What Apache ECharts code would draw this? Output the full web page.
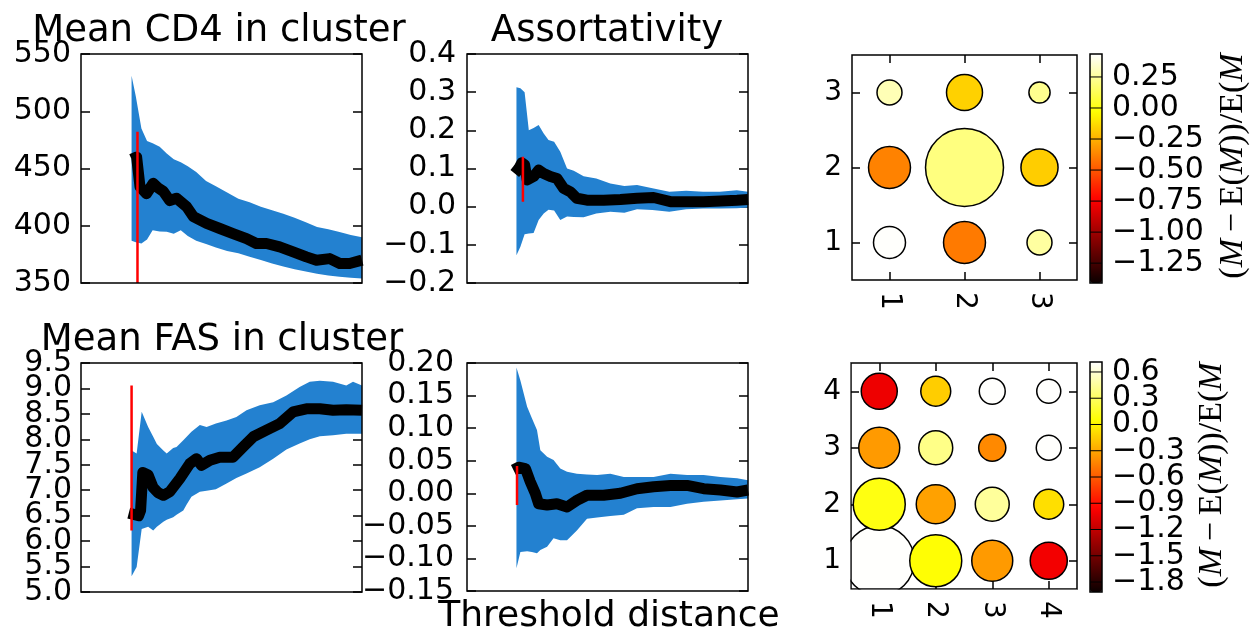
<!DOCTYPE html>
<html>
<head>
<meta charset="utf-8">
<script src="https://cdn.jsdelivr.net/npm/echarts@6/dist/echarts.min.js"></script>
<style>
  html, body { margin: 0; padding: 0; background: #fff; }
  #main { width: 1253px; height: 637px; }
</style>
</head>
<body>
<div id="main"></div>
<script>
// ---------- data ----------
// x is the threshold distance, in % of the plotted range (no tick labels in the figure)

// Mean CD4 in cluster
const cd4Ticks = [350, 400, 450, 500, 550]
const cd4BandX = [18, 19.5, 21.5, 23.5, 25.5, 28, 30.5, 33, 35.5, 38, 41, 44.5, 48, 52, 56, 60, 64, 68, 72, 76, 80, 84, 88, 92, 96, 100]
const cd4Lo = [387, 385.5, 384.5, 388, 396, 395, 394.7, 393, 396, 391, 387, 384, 381, 378, 376, 373, 370, 367, 364.5, 362, 360, 358, 356.5, 355.5, 354.5, 354]
const cd4Hi = [531, 513, 485, 474, 472, 469, 463, 458, 455.5, 452, 447, 439, 434.5, 429, 423.5, 420.5, 416.5, 413.5, 410.5, 407, 403, 399, 397, 394.5, 392, 390]
const cd4LineX = [18, 19.8, 21, 23.3, 25.7, 27.5, 29.3, 31.6, 34, 37.6, 40, 44.7, 49.4, 54.1, 58.9, 62.4, 66, 70.7, 75.5, 80.2, 83.8, 88.5, 92.1, 95.6, 100]
const cd4Line = [458, 460, 434, 428, 437, 433, 430, 422, 424, 416.6, 408, 402, 397.6, 393.2, 388.8, 384.5, 384.5, 381.5, 377.2, 372.8, 369.9, 371.3, 367, 367, 370]
const cd4RedX = 20.1
const cd4Red = [482, 350]

// Assortativity (CD4)
const asaTicks = [-0.2, -0.1, 0, 0.1, 0.2, 0.3, 0.4]
const asaBandX = [17.6, 19, 20.5, 22, 23.7, 25.5, 27.3, 29, 31, 33.2, 35.6, 38, 41.5, 46, 51, 56, 60.5, 66, 72, 78, 84, 90, 96, 100]
const asaLo = [-0.127, -0.105, -0.072, -0.07, -0.069, -0.035, -0.018, -0.008, -0.01, -0.035, -0.026, -0.027, -0.028, -0.018, -0.013, -0.016, -0.007, -0.009, -0.013, -0.007, -0.005, -0.005, -0.004, -0.002]
const asaHi = [0.313, 0.31, 0.3, 0.2, 0.206, 0.214, 0.192, 0.175, 0.17, 0.144, 0.1, 0.094, 0.08, 0.074, 0.061, 0.054, 0.057, 0.048, 0.039, 0.042, 0.039, 0.039, 0.043, 0.039]
const asaLineX = [17, 18.4, 19.5, 20.5, 21.4, 23.7, 25.5, 27.3, 29.7, 32, 34.4, 36.8, 39.1, 42.7, 48.6, 54.6, 60.5, 66.4, 72.4, 78.3, 84.2, 90.2, 96.1, 100]
const asaLine = [0.087, 0.1, 0.115, 0.11, 0.07, 0.079, 0.096, 0.087, 0.079, 0.074, 0.048, 0.039, 0.022, 0.017, 0.017, 0.019, 0.022, 0.024, 0.013, 0.013, 0.013, 0.015, 0.017, 0.019]
const asaRedX = 19.9
const asaRed = [0.131, 0.013]

// Mean FAS in cluster
const fasTicks = [5.0, 5.5, 6.0, 6.5, 7.0, 7.5, 8.0, 8.5, 9.0, 9.5]
const fasBandX = [18, 19.8, 21.6, 23.9, 25.7, 27, 29.3, 30.5, 32.8, 34, 36.4, 37.6, 39.3, 42.3, 44.7, 48, 51.8, 55.3, 58.9, 63.6, 68.4, 73.1, 77.8, 81.4, 85, 89.7, 94.4, 96.8, 100]
const fasLo = [5.31, 5.49, 6.24, 6.28, 6.21, 6.28, 6.38, 6.42, 6.47, 6.52, 6.6, 6.72, 6.87, 6.97, 6.99, 7.02, 7.13, 7.24, 7.33, 7.45, 7.62, 7.8, 7.92, 8.0, 8.06, 8.08, 8.11, 8.11, 8.11]
const fasHi = [7.78, 7.72, 8.54, 8.24, 8.05, 7.91, 7.78, 7.72, 7.83, 7.85, 7.98, 8.05, 8.15, 8.28, 8.24, 8.31, 8.37, 8.44, 8.57, 8.67, 8.73, 8.86, 9.03, 9.13, 9.15, 9.13, 9.06, 9.13, 9.06]
const fasLineX = [17, 20.5, 21.2, 22, 23.9, 25.7, 27.5, 29.3, 31.6, 35.2, 38.7, 41.1, 42.9, 45.9, 49.4, 54.1, 57.7, 61.3, 66, 70.7, 75.5, 80.2, 85, 89.7, 94.4, 100]
const fasLine = [6.55, 6.5, 6.6, 7.35, 7.3, 7.05, 6.95, 6.9, 6.97, 7.23, 7.52, 7.62, 7.49, 7.59, 7.65, 7.65, 7.85, 8.05, 8.18, 8.31, 8.54, 8.6, 8.6, 8.57, 8.58, 8.57]
const fasRedX = 18.0
const fasRed = [9.06, 6.21]

// Assortativity (FAS)
const asbTicks = [-0.15, -0.1, -0.05, 0, 0.05, 0.1, 0.15, 0.2]
const asbBandX = [17.6, 19, 21.4, 23.1, 24.9, 26.1, 28.5, 30.8, 33.2, 35.6, 39.1, 42.7, 46.3, 51, 55.8, 60.5, 66.4, 72.4, 78.3, 84.2, 90.2, 96.1, 100]
const asbLo = [-0.115, -0.09, -0.089, -0.09, -0.092, -0.087, -0.082, -0.069, -0.072, -0.072, -0.057, -0.039, -0.037, -0.035, -0.033, -0.023, -0.021, -0.021, -0.016, -0.013, -0.011, -0.009, -0.008]
const asbHi = [0.193, 0.173, 0.133, 0.115, 0.097, 0.066, 0.056, 0.051, 0.038, 0.033, 0.03, 0.029, 0.028, 0.03, 0.025, 0.025, 0.025, 0.03, 0.028, 0.028, 0.025, 0.023, 0.02]
const asbLineX = [16.5, 18.4, 20.8, 22.5, 24.3, 25.5, 28.5, 32, 35.6, 39.1, 42.7, 48.6, 54.6, 60.5, 66.4, 72.4, 78.3, 84.2, 90.2, 96.1, 100]
const asbLine = [0.036, 0.04, 0.038, 0.018, 0.0, -0.016, -0.018, -0.016, -0.021, -0.011, -0.003, -0.003, 0.0, 0.007, 0.01, 0.012, 0.012, 0.007, 0.005, 0.002, 0.005]
const asbRedX = 17.8
const asbRed = [0.042, -0.018]

// mixing matrices, rows = y category 1..n, cols = x category 1..n
const topCats = ['1', '2', '3']
const topValue = [
  [0.43, -0.40, 0.26],
  [-0.38, 0.20, -0.17],
  [0.30, -0.16, 0.23]
]
const topCount = [
  [64, 110, 39],
  [110, 380, 86],
  [39, 81, 28]
]
const topTicks = [0.25, 0, -0.25, -0.5, -0.75, -1.0, -1.25]
const topMin = -1.41
const topMax = 0.435

const botCats = ['1', '2', '3', '4']
const botValue = [
  [0.71, 0.05, -0.35, -1.00],
  [0.09, -0.32, 0.45, -0.08],
  [-0.35, 0.40, -0.42, 0.71],
  [-1.02, -0.15, 0.71, 0.71]
]
const botCount = [
  [306, 169, 105, 86],
  [169, 95, 72, 56],
  [105, 72, 46, 39],
  [81, 56, 42, 36]
]
const botTicks = [0.6, 0.3, 0, -0.3, -0.6, -0.9, -1.2, -1.5, -1.8]
const botMin = -1.914
const botMax = 0.714

// ---------- chart ----------
const blue = '#2381d0'
const sans = 'DejaVu Sans'
const serif = 'Liberation Serif'

const fixed = (d) => (v) => (Math.abs(v) < 1e-9 ? 0 : v).toFixed(d).replace('-', '\u2212')
const evens = (a) => a.filter((v, i) => i % 2 === 0)
const odds = (a) => a.filter((v, i) => i % 2 === 1)

// matplotlib "hot" colormap
function hot(t) {
  const c = (x) => Math.max(0, Math.min(1, x))
  const r = c(0.0416 + (1 - 0.0416) * t / 0.365079)
  const g = c((t - 0.365079) / 0.380953)
  const b = c((t - 0.746032) / 0.253968)
  return 'rgb(' + [r, g, b].map((x) => Math.round(x * 255)).join(',') + ')'
}
const hotColors = []
for (let i = 0; i <= 40; i++) hotColors.push(hot(i / 40))

// grids are drawn above the series so the box stays on top, like matplotlib spines
const grids = [
  { left: 81, top: 54, width: 281, height: 229 },
  { left: 467, top: 54, width: 281, height: 229 },
  { left: 852, top: 55, width: 225, height: 225 },
  { left: 81, top: 363, width: 281, height: 229 },
  { left: 467, top: 363, width: 281, height: 228 },
  { left: 851, top: 363, width: 226, height: 226 },
  { left: 1090, top: 54, width: 12, height: 229 },
  { left: 1090, top: 362, width: 12, height: 230 }
].map((g) => Object.assign({ show: true, z: 10, borderColor: '#000', borderWidth: 1.5, containLabel: false, outerBoundsMode: 'none' }, g))

const xAxes = []
const yAxes = []
const series = []
const visualMaps = []
const tickStyle = { color: '#000', width: 1.5 }

// two label-only axes so that crowded labels are never dropped
function labelAxes(g, pos, min, max, ticks, fmt, margin) {
  const lab = { formatter: fmt, fontSize: 30, fontFamily: sans, color: '#000', margin: margin, hideOverlap: false }
  ;[evens(ticks), odds(ticks)].forEach((vals) => {
    yAxes.push({
      gridIndex: g, type: 'value', position: pos, min: min, max: max,
      axisLine: { show: false }, axisTick: { show: false }, splitLine: { show: false },
      axisLabel: Object.assign({ customValues: vals }, lab)
    })
  })
}

function linePanel(g, ticks, fmt, margin, bx, lo, hi, lx, ly, rx, ry) {
  const yMin = ticks[0]
  const yMax = ticks[ticks.length - 1]
  const xi = xAxes.length
  xAxes.push({ gridIndex: g, type: 'value', min: 0, max: 100, show: false })
  const yi = yAxes.length
  const tick = { show: true, inside: true, length: 9, lineStyle: tickStyle, customValues: ticks }
  ;['left', 'right'].forEach((pos) => {
    yAxes.push({
      gridIndex: g, type: 'value', position: pos, min: yMin, max: yMax,
      axisLine: { show: false }, axisTick: tick, axisLabel: { show: false }, splitLine: { show: false }
    })
  })
  labelAxes(g, 'left', yMin, yMax, ticks, fmt, margin)
  // blue band between lo and hi
  series.push({
    type: 'custom', xAxisIndex: xi, yAxisIndex: yi, silent: true, clip: true,
    data: bx.map((x, i) => [x, lo[i], hi[i]]),
    encode: { x: 0, y: [1, 2] },
    renderItem: (params, api) => {
      if (params.dataIndex !== 0) return null
      const pts = []
      bx.forEach((x, i) => pts.push(api.coord([x, hi[i]])))
      for (let i = bx.length - 1; i >= 0; i--) pts.push(api.coord([bx[i], lo[i]]))
      return { type: 'polygon', shape: { points: pts }, style: { fill: blue } }
    }
  })
  const common = { type: 'line', xAxisIndex: xi, yAxisIndex: yi, symbol: 'none', silent: true }
  series.push(Object.assign({}, common, {
    lineStyle: { color: '#000', width: 11, cap: 'butt', join: 'round' },
    data: lx.map((x, i) => [x, ly[i]])
  }))
  series.push(Object.assign({}, common, {
    lineStyle: { color: '#ff0000', width: 2.5 },
    data: ry.map((y) => [rx, y])
  }))
}

function bubblePanel(g, cats, values, counts, vmin, vmax, cb) {
  const xi = xAxes.length
  const tick = { show: true, inside: true, alignWithLabel: true, length: 8, lineStyle: tickStyle }
  const lab = { fontSize: 28, fontFamily: sans, color: '#000', interval: 0 }
  xAxes.push({
    gridIndex: g, type: 'category', data: cats, position: 'bottom', boundaryGap: true,
    axisLine: { show: false }, axisTick: tick, splitLine: { show: false },
    axisLabel: Object.assign({ rotate: -90, margin: 12 }, lab)
  })
  xAxes.push({
    gridIndex: g, type: 'category', data: cats, position: 'top', boundaryGap: true,
    axisLine: { show: false }, axisTick: tick, axisLabel: { show: false }, splitLine: { show: false }
  })
  const yi = yAxes.length
  yAxes.push({
    gridIndex: g, type: 'category', data: cats, position: 'left', boundaryGap: true,
    axisLine: { show: false }, axisTick: tick, splitLine: { show: false },
    axisLabel: Object.assign({ margin: 10 }, lab)
  })
  yAxes.push({
    gridIndex: g, type: 'category', data: cats, position: 'right', boundaryGap: true,
    axisLine: { show: false }, axisTick: tick, axisLabel: { show: false }, splitLine: { show: false }
  })
  const data = []
  values.forEach((row, r) => row.forEach((v, c) => data.push([c, r, v, counts[r][c]])))
  const si = series.length
  series.push({
    type: 'scatter', xAxisIndex: xi, yAxisIndex: yi, data: data, silent: true,
    symbolSize: (d) => 4 * Math.sqrt(d[3]),
    itemStyle: { borderColor: '#000', borderWidth: 1.5, opacity: 1 }
  })
  visualMaps.push({
    type: 'continuous', seriesIndex: si, dimension: 2, min: vmin, max: vmax,
    calculable: false, hoverLink: false, orient: 'vertical', padding: 0,
    left: grids[cb].left, top: grids[cb].top, itemWidth: grids[cb].width, itemHeight: grids[cb].height,
    inRange: { color: hotColors }
  })
}

function colorbar(g, vmin, vmax, ticks, fmt) {
  const xi = xAxes.length
  xAxes.push({ gridIndex: g, type: 'value', min: 0, max: 1, show: false })
  const yi = yAxes.length
  labelAxes(g, 'right', vmin, vmax, ticks, fmt, 10)
  series.push({
    type: 'custom', xAxisIndex: xi, yAxisIndex: yi, z: 10, silent: true,
    data: ticks.map((t) => [0, t]),
    renderItem: (params, api) => {
      const a = api.coord([0, api.value(1)])
      const b = api.coord([1, api.value(1)])
      return { type: 'line', shape: { x1: a[0], y1: a[1], x2: b[0], y2: b[1] }, style: { stroke: '#000', lineWidth: 1 } }
    }
  })
}

linePanel(0, cd4Ticks, (v) => String(v), 10, cd4BandX, cd4Lo, cd4Hi, cd4LineX, cd4Line, cd4RedX, cd4Red)
linePanel(1, asaTicks, fixed(1), 11, asaBandX, asaLo, asaHi, asaLineX, asaLine, asaRedX, asaRed)
linePanel(3, fasTicks, fixed(1), 9, fasBandX, fasLo, fasHi, fasLineX, fasLine, fasRedX, fasRed)
linePanel(4, asbTicks, fixed(2), 13, asbBandX, asbLo, asbHi, asbLineX, asbLine, asbRedX, asbRed)
bubblePanel(2, topCats, topValue, topCount, topMin, topMax, 6)
bubblePanel(5, botCats, botValue, botCount, botMin, botMax, 7)
colorbar(6, topMin, topMax, topTicks, fixed(2))
colorbar(7, botMin, botMax, botTicks, fixed(1))

function label(text, x, y, size) {
  return {
    type: 'text', x: x, y: y, silent: true,
    style: { text: text, fontSize: size, fontFamily: sans, fill: '#000', align: 'center', verticalAlign: 'middle', textAlign: 'center', textVerticalAlign: 'middle' }
  }
}
function cbLabel(x, y) {
  return {
    type: 'text', x: x, y: y, rotation: Math.PI / 2, silent: true,
    style: {
      text: '({i|M}\u2009\u2212\u2009E({i|M}))/E({i|M}',
      fontSize: 34, fontFamily: serif, fill: '#000',
      align: 'center', verticalAlign: 'middle', textAlign: 'center', textVerticalAlign: 'middle',
      rich: { i: { fontStyle: 'italic', fontSize: 34, fontFamily: serif, fill: '#000' } }
    }
  }
}
// the big bubble of the lower matrix is cut by the axes box, as in matplotlib
const fg = grids[5]
const masks = [
  { type: 'rect', z: 100, silent: true, shape: { x: fg.left - 9, y: fg.top, width: 8.2, height: fg.height + 9 }, style: { fill: '#fff' } },
  { type: 'rect', z: 100, silent: true, shape: { x: fg.left - 9, y: fg.top + fg.height + 0.8, width: fg.width + 9, height: 9 }, style: { fill: '#fff' } }
]

const chart = echarts.init(document.getElementById('main'), null, { renderer: 'canvas' })
chart.setOption({
  backgroundColor: '#fff',
  animation: false,
  grid: grids,
  xAxis: xAxes,
  yAxis: yAxes,
  visualMap: visualMaps,
  series: series,
  graphic: masks.concat([
    label('Mean CD4 in cluster', 219, 31, 37),
    label('Assortativity', 607, 31, 37),
    label('Mean FAS in cluster', 222, 340, 37),
    label('Threshold distance', 609, 617, 36),
    cbLabel(1233, 166),
    cbLabel(1212, 475)
  ])
})
</script>
</body>
</html>
